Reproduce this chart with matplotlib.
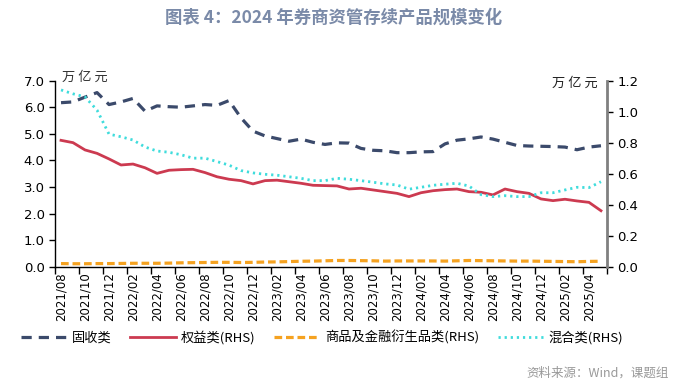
import matplotlib
matplotlib.use("Agg")
import matplotlib.pyplot as plt
import numpy as np

plt.rcParams['font.family'] = ['Noto Sans CJK SC', 'DejaVu Sans']

months = ["2021/08","2021/09","2021/10","2021/11","2021/12",
          "2022/01","2022/02","2022/03","2022/04","2022/05","2022/06","2022/07","2022/08","2022/09","2022/10","2022/11","2022/12",
          "2023/01","2023/02","2023/03","2023/04","2023/05","2023/06","2023/07","2023/08","2023/09","2023/10","2023/11","2023/12",
          "2024/01","2024/02","2024/03","2024/04","2024/05","2024/06","2024/07","2024/08","2024/09","2024/10","2024/11","2024/12",
          "2025/01","2025/02","2025/03","2025/04","2025/05"]

fixed_income = [6.17, 6.2, 6.38, 6.55, 6.1, 6.2, 6.33, 5.85, 6.05, 6.02, 6.0, 6.05, 6.1, 6.07, 6.25, 5.6, 5.1,
                4.92, 4.82, 4.72, 4.8, 4.68, 4.6, 4.66, 4.65, 4.45, 4.38, 4.36, 4.29,
                4.29, 4.32, 4.33, 4.62, 4.76, 4.81, 4.88, 4.8, 4.68, 4.56, 4.54, 4.53,
                4.52, 4.5, 4.4, 4.5, 4.55]
equity = [0.815, 0.80, 0.753, 0.731, 0.695, 0.656, 0.662, 0.638, 0.602, 0.622, 0.626, 0.628, 0.607, 0.58, 0.564, 0.555, 0.534,
          0.555, 0.558, 0.548, 0.538, 0.525, 0.523, 0.521, 0.501, 0.506, 0.495, 0.484, 0.473,
          0.452, 0.477, 0.49, 0.497, 0.501, 0.484, 0.48, 0.463, 0.501, 0.484, 0.473, 0.437,
          0.426, 0.435, 0.424, 0.415, 0.361]
commodity = [0.020, 0.019, 0.019, 0.020, 0.020, 0.021, 0.022, 0.022, 0.022, 0.023, 0.025, 0.026, 0.027, 0.028, 0.028, 0.027, 0.028,
             0.030, 0.031, 0.033, 0.035, 0.036, 0.038, 0.040, 0.040, 0.039, 0.038, 0.036, 0.037,
             0.037, 0.037, 0.037, 0.036, 0.038, 0.040, 0.039, 0.038, 0.037, 0.036, 0.036, 0.035,
             0.034, 0.033, 0.032, 0.034, 0.035]
mixed = [1.14, 1.115, 1.095, 1.01, 0.855, 0.838, 0.817, 0.772, 0.746, 0.738, 0.722, 0.70, 0.70, 0.678, 0.655, 0.62, 0.605,
         0.596, 0.59, 0.58, 0.57, 0.555, 0.555, 0.57, 0.564, 0.555, 0.545, 0.534, 0.527,
         0.50, 0.512, 0.525, 0.532, 0.538, 0.52, 0.465, 0.452, 0.458, 0.452, 0.452, 0.477,
         0.477, 0.495, 0.512, 0.51, 0.548]

names = ["固收类", "权益类(RHS)", "商品及金融衍生品类(RHS)", "混合类(RHS)"]
title = "图表 4：2024 年券商资管存续产品规模变化"
source = "资料来源：Wind，课题组"
unit = "万 亿 元"

c_navy = "#3b4a6b"
c_red = "#cc3a50"
c_orange = "#f5a220"
c_cyan = "#3fdcdc"

fig = plt.figure(figsize=(6.81, 3.84), dpi=100)
ax = fig.add_axes([0.0808, 0.3055, 0.8105, 0.4845])
ax2 = ax.twinx()

x = np.arange(len(months))
l1, = ax.plot(x, fixed_income, color=c_navy, lw=2.3, linestyle=(0, (3.2, 2.2)), label=names[0])
l2, = ax2.plot(x, equity, color=c_red, lw=2.0, label=names[1])
l3, = ax2.plot(x, commodity, color=c_orange, lw=2.3, linestyle=(0, (2.4, 1.2)), label=names[2])
l4, = ax2.plot(x, mixed, color=c_cyan, lw=2.0, linestyle=(0, (0.8, 1.4)), label=names[3])

ax.set_xlim(-0.5, len(months) - 0.5)
ax.set_ylim(0, 7.0)
ax2.set_ylim(0, 1.2)
ax.set_yticks(np.arange(0, 7.01, 1.0))
ax.set_yticklabels([f"{v:.1f}" for v in np.arange(0, 7.01, 1.0)])
ax2.set_yticks(np.arange(0, 1.21, 0.2))
ax2.set_yticklabels([f"{v:.1f}" for v in np.arange(0, 1.21, 0.2)])

tick_font = ['DejaVu Sans']
ax.set_xticks(np.arange(-0.5, len(months), 2), minor=False)
ax.set_xticklabels([])
ax.set_xticks(x[::2], minor=True)
ax.set_xticklabels(months[::2], minor=True, rotation=90, fontsize=8.5, family=tick_font)
ax.tick_params(axis='x', which='minor', length=0, pad=4)
ax.tick_params(axis='x', which='major', length=5, width=1, direction='out', color='black')
ax.tick_params(axis='y', length=4, width=1, direction='out', labelsize=9.5)
ax2.tick_params(axis='y', length=4, width=1, direction='out', labelsize=9.5)
for lab in ax.get_yticklabels() + ax2.get_yticklabels():
    lab.set_family(tick_font)

for a in (ax, ax2):
    a.spines['top'].set_visible(False)
ax.spines['right'].set_visible(False)
ax2.spines['left'].set_visible(False)
ax2.spines['bottom'].set_visible(False)
ax2.spines['right'].set_color('#808080')
ax2.spines['right'].set_linewidth(2)
ax.spines['left'].set_linewidth(1)
ax.spines['bottom'].set_linewidth(1)

ax.text(0.012, 1.02, unit, transform=ax.transAxes, fontsize=9.5, style='italic', ha='left', va='center', color='#333333')
ax.text(0.983, 0.985, unit, transform=ax.transAxes, fontsize=9.5, style='italic', ha='right', va='center', color='#222222')

fig.text(0.49, 0.953, title, ha='center', va='center', fontsize=12.5, fontweight='bold', color='#7a8aa8')
fig.text(0.982, 0.028, source, ha='right', va='center', fontsize=9, color='#999999')

fig.legend(handles=[l1, l2, l3, l4], loc='center', bbox_to_anchor=(0.473, 0.122), ncol=4, frameon=False,
           fontsize=9.5, handlelength=3.5, columnspacing=1.4, handletextpad=0.35)

fig.savefig("out.png", dpi=100)
